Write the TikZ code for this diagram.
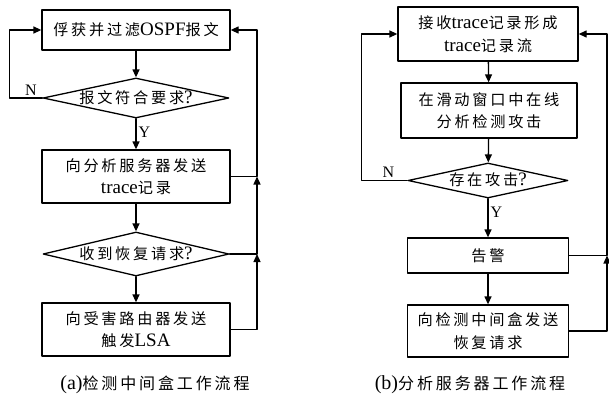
\documentclass[tikz,border=0pt]{standalone}
\usepackage{fontspec}
\setmainfont{Liberation Serif}
\newfontfamily\cjk[Scale=0.8, LetterSpace=18]{Noto Sans CJK SC}
\newcommand{\zh}[1]{{\cjk #1}}
\usepackage{tikz}
\usetikzlibrary{arrows.meta, shapes.geometric, positioning}

\begin{document}
\begin{tikzpicture}[x=1pt, y=-1pt, line cap=round, line join=round,
    box/.style={draw, line width=1.3pt, minimum width=188pt, align=center, inner sep=2pt, font=\fontsize{19}{22.5}\selectfont},
    test/.style={draw, diamond, line width=1.3pt, inner sep=0pt, aspect=4, text height=10pt, text depth=0pt, font=\fontsize{19}{22.5}\selectfont},
    flow/.style={-{Triangle[length=8pt, width=7pt]}, line width=1.3pt},
    lbl/.style={font=\fontsize{16}{18}\selectfont, inner sep=2pt},
    caption/.style={font=\fontsize{20}{22}\selectfont}]
      \useasboundingbox (0,0) rectangle (609,396);

      % (a) flujo del middlebox
      \node[box, minimum height=40pt] (a1) at (136,30) {\zh{俘获并过滤}OSPF\zh{报文}};
      \node[test, minimum width=186pt, minimum height=40pt] (a2) at (136,98) {\zh{报文符合要求}?};
      \node[box, minimum height=53pt] (a3) at (136,176.5) {\zh{向分析服务器发送}\\trace\zh{记录}};
      \node[test, minimum width=186pt, minimum height=44pt] (a4) at (136,254) {\zh{收到恢复请求}?};
      \node[box, minimum height=53pt] (a5) at (136,329.5) {\zh{向受害路由器发送}\\\zh{触发}LSA};
      \coordinate (rxa) at (257,0);

      \draw[flow] (a1) -- (a2);
      \draw[flow] (a2) -- node[right, lbl, pos=0.45] {Y} (a3);
      \draw[flow] (a3) -- (a4);
      \draw[flow] (a4) -- (a5);
      \draw[flow] (a2.west) -- node[above, lbl, pos=0.35] {N} ++(-33,0) |- (a1.west);
      \draw[flow] (a5.east) -| (a4.east -| rxa);
      \draw[flow] (a4.east) -- (a4.east -| rxa) -- (a3.east -| rxa);
      \draw[flow] (a3.east) -- (a3.east -| rxa) |- (a1.east);

      % (b) flujo del servidor
      \node[box, minimum width=180pt, minimum height=54pt] (b1) at (488,34) {\zh{接收}trace\zh{记录形成}\\trace\zh{记录流}};
      \node[box, minimum width=176pt, minimum height=55pt] (b2) at (489,110.5) {\zh{在滑动窗口中在线}\\\zh{分析检测攻击}};
      \node[test, minimum width=160pt, minimum height=35pt] (b3) at (488,180.5) {\zh{存在攻击}?};
      \node[box, minimum width=161pt, minimum height=35pt] (b4) at (488,255.5) {\zh{告警}};
      \node[box, minimum width=161pt, minimum height=52pt] (b5) at (488,331) {\zh{向检测中间盒发送}\\\zh{恢复请求}};
      \coordinate (rxb) at (607,0);

      \draw[flow] (b1) -- (b2);
      \draw[flow] (b2) -- (b3);
      \draw[flow] (b3) -- node[right, lbl, pos=0.35] {Y} (b4);
      \draw[flow] (b4) -- (b5);
      \draw[flow] (b3.west) -- node[above, lbl, pos=0.41] {N} ++(-46,0) |- (b1.west);
      \draw[flow] (b5.east) -| (b4.east -| rxb);
      \draw[flow] (b4.east) -- (b4.east -| rxb) |- (b1.east);

      % Leyendas
      \node[caption] (capa) at (155,385) {(a)\zh{检测中间盒工作流程}};
      \node[caption] (capb) at (470,385) {(b)\zh{分析服务器工作流程}};
    \end{tikzpicture}
\end{document}
